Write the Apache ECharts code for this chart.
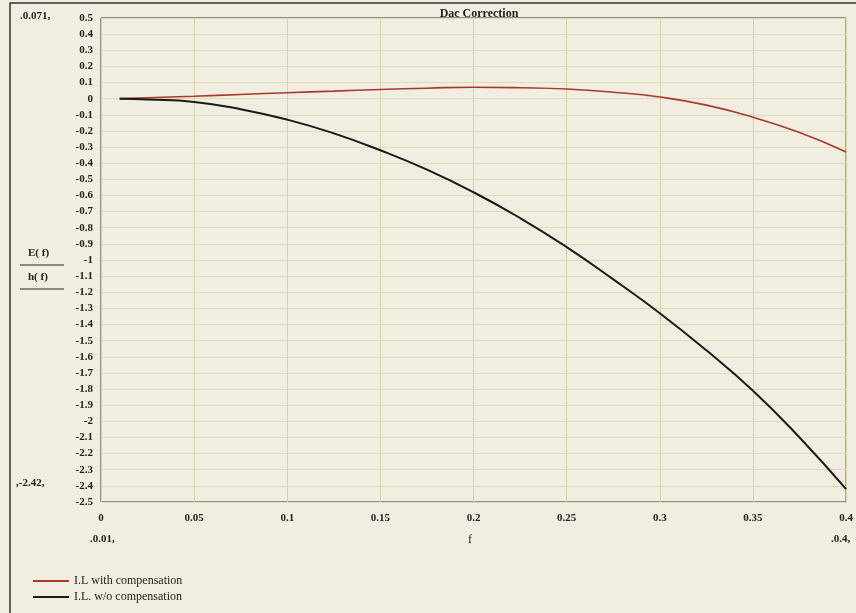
<!DOCTYPE html>
<html>
<head>
<meta charset="utf-8">
<script src="https://cdn.jsdelivr.net/npm/echarts@6/dist/echarts.min.js"></script>
<style>
  html, body { margin: 0; padding: 0; background: #f1ede0; }
  #chart { width: 856px; height: 613px; }
</style>
</head>
<body>
<div id="chart"></div>
<script>
// frequency points (f) and the two curves
const freqs = [0.01, 0.025, 0.05, 0.075, 0.1, 0.125, 0.15, 0.175, 0.2, 0.225, 0.25, 0.275, 0.3, 0.325, 0.35, 0.375, 0.4];
const withComp = [0, 0.006, 0.015, 0.026, 0.037, 0.047, 0.057, 0.065, 0.071, 0.068, 0.06, 0.04, 0.01, -0.04, -0.115, -0.21, -0.33];
const woComp = [0, -0.005, -0.02, -0.065, -0.13, -0.215, -0.32, -0.44, -0.58, -0.74, -0.92, -1.12, -1.33, -1.56, -1.81, -2.1, -2.42];
const seriesNames = ['I.L with compensation', 'I.L. w/o compensation'];

const serif = 'Liberation Serif';
const chart = echarts.init(document.getElementById('chart'));

// tick labels like 0.05 / -1.1
const fmt = v => parseFloat(v.toFixed(2)).toString();

const option = {
  backgroundColor: '#f1ede0',
  animation: false,
  title: {
    text: 'Dac Correction',
    left: 474, top: 3, textAlign: 'center',
    textStyle: { fontFamily: serif, fontSize: 12, fontWeight: 'bold', color: '#222' }
  },
  grid: { left: 101, right: 8, top: 18, bottom: 111, show: true, borderColor: '#333', borderWidth: 1, backgroundColor: 'transparent' },
  legend: {
    orient: 'vertical', left: 28, top: 570, itemGap: 4,
    itemWidth: 36, itemHeight: 2, icon: 'rect',
    textStyle: { fontFamily: serif, fontSize: 12, color: '#222' },
    data: seriesNames
  },
  xAxis: {
    type: 'value', min: 0, max: 0.4, interval: 0.05,
    axisLine: { show: false }, axisTick: { show: false },
    axisLabel: { fontFamily: serif, fontSize: 11, fontWeight: 'bold', color: '#222', margin: 11, formatter: fmt },
    splitLine: { show: true, lineStyle: { color: '#d6d4a6', width: 1 } }
  },
  yAxis: {
    type: 'value', min: -2.5, max: 0.5, interval: 0.1,
    axisLine: { show: false }, axisTick: { show: false },
    axisLabel: { fontFamily: serif, fontSize: 11, fontWeight: 'bold', color: '#222', margin: 8, formatter: fmt },
    splitLine: { show: true, lineStyle: { color: '#e0dab6', width: 1 } }
  },
  series: [
    {
      name: seriesNames[0], type: 'line', smooth: true, symbol: 'none',
      lineStyle: { color: '#a83a2c', width: 1.6 }, itemStyle: { color: '#a83a2c' },
      data: freqs.map((f, i) => [f, withComp[i]])
    },
    {
      name: seriesNames[1], type: 'line', smooth: true, symbol: 'none',
      lineStyle: { color: '#1a1a1a', width: 2 }, itemStyle: { color: '#1a1a1a' },
      data: freqs.map((f, i) => [f, woComp[i]])
    }
  ],
  graphic: [
    { type: 'rect', shape: { x: 10, y: 3, width: 850, height: 620 }, style: { fill: 'none', stroke: '#333', lineWidth: 1.5 }, silent: true },
    { type: 'text', left: 20, top: 11, style: { text: '.0.071,', font: 'bold 11px "Liberation Serif"', fill: '#222' } },
    { type: 'text', left: 16, top: 478, style: { text: ',-2.42,', font: 'bold 11px "Liberation Serif"', fill: '#222' } },
    { type: 'text', left: 90, top: 534, style: { text: '.0.01,', font: 'bold 11px "Liberation Serif"', fill: '#222' } },
    { type: 'text', left: 831, top: 534, style: { text: '.0.4,', font: 'bold 11px "Liberation Serif"', fill: '#222' } },
    { type: 'text', left: 468, top: 534, style: { text: 'f', font: '12px "Liberation Serif"', fill: '#222' } },
    { type: 'text', left: 28, top: 248, style: { text: 'E( f)', font: 'bold 11px "Liberation Serif"', fill: '#222' } },
    { type: 'line', shape: { x1: 20, y1: 265, x2: 64, y2: 265 }, style: { stroke: '#222', lineWidth: 1 } },
    { type: 'text', left: 28, top: 272, style: { text: 'h( f)', font: 'bold 11px "Liberation Serif"', fill: '#222' } },
    { type: 'line', shape: { x1: 20, y1: 289, x2: 64, y2: 289 }, style: { stroke: '#222', lineWidth: 1 } }
  ]
};

chart.setOption(option);
</script>
</body>
</html>
